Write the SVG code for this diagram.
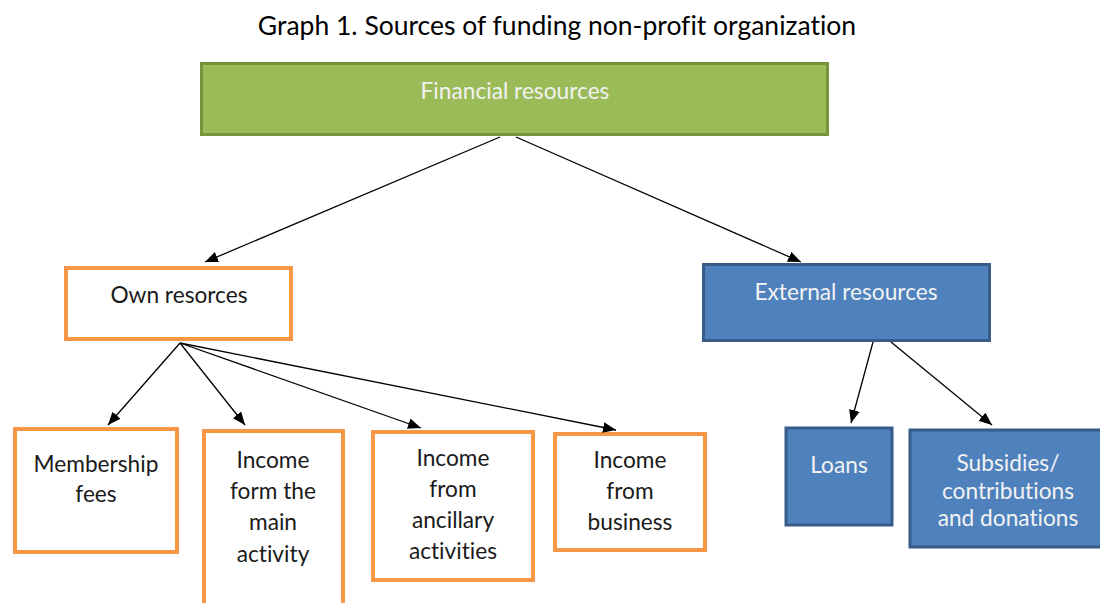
<svg xmlns="http://www.w3.org/2000/svg" width="1100" height="603" viewBox="0 0 1100 603">
  <defs>
    <marker id="arrow" viewBox="0 0 12 10" refX="12" refY="5" markerWidth="13" markerHeight="11" markerUnits="userSpaceOnUse" orient="auto">
      <path d="M0,0 L12,5 L0,10 z" fill="#000"/>
    </marker>
    <style>
      text { font-family: Lato, "Liberation Sans", sans-serif; font-size: 22.7px; text-anchor: middle; font-variant-ligatures: none; }
      .title { font-size: 26.5px; fill: #000; }
      .green { fill: #9BBB59; stroke: #77933C; stroke-width: 3; }
      .orange { fill: #fff; stroke: #F79646; stroke-width: 4; }
      .blue { fill: #4F81BD; stroke: #385D8A; stroke-width: 3; }
      .dark { fill: #1a1a1a; }
      .light { fill: #F2F2F2; }
      .conn line { stroke: #000; stroke-width: 1.3; marker-end: url(#arrow); }
    </style>
  </defs>
  <rect width="1100" height="603" fill="#fff"/>

  <text class="title" x="557" y="35">Graph 1. Sources of funding non-profit organization</text>

  <g id="financial">
    <rect class="green" x="201.5" y="63.5" width="626" height="71"/>
    <text class="light" x="515" y="99">Financial resources</text>
  </g>

  <g id="own">
    <rect class="orange" x="66" y="268" width="225" height="71"/>
    <text class="dark" x="179" y="303">Own resorces</text>
  </g>

  <g id="external">
    <rect class="blue" x="703.5" y="264.5" width="286" height="76"/>
    <text class="light" x="846" y="300">External resources</text>
  </g>

  <g id="membership">
    <rect class="orange" x="15" y="429" width="162" height="123"/>
    <text class="dark" x="96" y="472">Membership</text>
    <text class="dark" x="96" y="502">fees</text>
  </g>

  <g id="main-activity">
    <rect class="orange" x="204" y="431" width="139" height="180"/>
    <text class="dark" x="273" y="468">Income</text>
    <text class="dark" x="273" y="499">form the</text>
    <text class="dark" x="273" y="530">main</text>
    <text class="dark" x="273" y="562">activity</text>
  </g>

  <g id="ancillary">
    <rect class="orange" x="373" y="432" width="160" height="148"/>
    <text class="dark" x="453" y="466">Income</text>
    <text class="dark" x="453" y="497">from</text>
    <text class="dark" x="453" y="528">ancillary</text>
    <text class="dark" x="453" y="559">activities</text>
  </g>

  <g id="business">
    <rect class="orange" x="555" y="434" width="150" height="116"/>
    <text class="dark" x="630" y="468">Income</text>
    <text class="dark" x="630" y="499">from</text>
    <text class="dark" x="630" y="530">business</text>
  </g>

  <g id="loans">
    <rect class="blue" x="786" y="428" width="106" height="97"/>
    <text class="light" x="839" y="473">Loans</text>
  </g>

  <g id="subsidies">
    <rect class="blue" x="910" y="430" width="196" height="117"/>
    <text class="light" x="1008" y="471">Subsidies/</text>
    <text class="light" x="1008" y="499">contributions</text>
    <text class="light" x="1008" y="526">and donations</text>
  </g>

  <g id="connectors" class="conn">
    <line x1="500" y1="137" x2="205" y2="262"/>
    <line x1="516" y1="137" x2="801" y2="262"/>
    <line x1="180" y1="343" x2="108" y2="425"/>
    <line x1="180" y1="343" x2="245" y2="425"/>
    <line x1="180" y1="343" x2="421" y2="428"/>
    <line x1="180" y1="343" x2="616" y2="430"/>
    <line x1="873" y1="342" x2="851" y2="423"/>
    <line x1="891" y1="342" x2="992" y2="425"/>
  </g>
</svg>
